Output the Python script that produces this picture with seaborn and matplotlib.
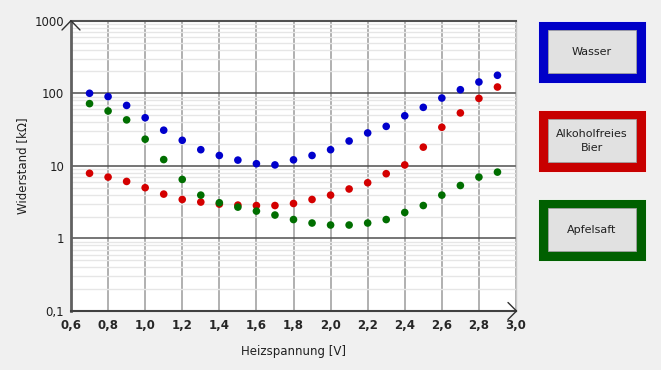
import matplotlib
matplotlib.use('Agg')
import numpy as np
import pandas as pd
import matplotlib.pyplot as plt
import seaborn as sns
from matplotlib.patches import Rectangle
from matplotlib.lines import Line2D
from matplotlib.ticker import FixedLocator, FuncFormatter, LogLocator, NullFormatter

spannung = [0.7, 0.8, 0.9, 1.0, 1.1, 1.2, 1.3, 1.4, 1.5, 1.6, 1.7, 1.8,
            1.9, 2.0, 2.1, 2.2, 2.3, 2.4, 2.5, 2.6, 2.7, 2.8, 2.9]
wasser = [100, 90, 68, 46, 31, 22.5, 16.7, 13.9, 12.0, 10.7, 10.3, 12.1,
          13.9, 16.7, 22, 28.4, 35, 49, 64, 86, 112, 143, 177]
bier = [7.9, 7.0, 6.1, 5.0, 4.08, 3.44, 3.17, 2.97, 2.88, 2.84, 2.84, 3.03,
        3.44, 3.95, 4.8, 5.85, 7.8, 10.3, 18.1, 34, 53.6, 85, 122]
apfel = [72, 57, 43, 23.3, 12.2, 6.5, 3.95, 3.1, 2.7, 2.38, 2.1, 1.82,
         1.63, 1.53, 1.53, 1.63, 1.82, 2.28, 2.84, 3.95, 5.36, 7.0, 8.2]

serien = ['Wasser', 'Alkoholfreies\nBier', 'Apfelsaft']
punkt_farben = ['#0000cc', '#d40000', '#006e00']
rahmen_farben = ['#0000c8', '#c80000', '#006000']
x_ticks = [0.6, 0.8, 1.0, 1.2, 1.4, 1.6, 1.8, 2.0, 2.2, 2.4, 2.6, 2.8, 3.0]
y_ticks = [0.1, 1, 10, 100, 1000]

df = pd.DataFrame({
    'U': spannung * 3,
    'R': wasser + bier + apfel,
    'Probe': np.repeat(serien, len(spannung)),
})

sns.set_style('white')
plt.rcParams['font.family'] = ['DejaVu Sans']

fig = plt.figure(figsize=(6.61, 3.70), dpi=100, facecolor='#f0f0f0')
W, H = 661, 370
ax = fig.add_axes([71 / W, 1 - 311 / H, (516 - 71) / W, (311 - 20.7) / H])
ax.set_facecolor('white')

sns.scatterplot(data=df, x='U', y='R', hue='Probe', palette=punkt_farben,
                s=30, linewidth=0, legend=False, ax=ax, zorder=3)

ax.set_yscale('log')
ax.set_xlim(0.6, 3.0)
ax.set_ylim(0.1, 1000)

ax.xaxis.set_major_locator(FixedLocator(x_ticks))
ax.xaxis.set_major_formatter(FuncFormatter(lambda v, p: f'{v:.1f}'.replace('.', ',')))
ax.yaxis.set_major_locator(FixedLocator(y_ticks))
ax.yaxis.set_major_formatter(FuncFormatter(lambda v, p: f'{v:g}'.replace('.', ',')))
ax.yaxis.set_minor_locator(LogLocator(base=10, subs=np.arange(2, 10)))
ax.yaxis.set_minor_formatter(NullFormatter())

ax.set_axisbelow(True)
ax.grid(axis='x', which='major', color='#b0b0b0', lw=1.4)
ax.grid(axis='y', which='major', color='#505050', lw=1.1)
ax.grid(axis='y', which='minor', color='#e6e6e6', lw=1.0)

ax.tick_params(axis='x', which='major', length=0, pad=6, labelsize=8.5)
ax.tick_params(axis='y', which='major', length=4, width=1, color='#505050',
               pad=1, labelsize=8.5, labelcolor='#202020')
ax.tick_params(axis='y', which='minor', length=2, width=1, color='#808080')
for lbl in ax.get_xticklabels():
    lbl.set_fontweight('bold')

for side, col, lw in [('left', '#606060', 2.0), ('bottom', '#404040', 1.5),
                      ('top', '#505050', 1.5), ('right', '#c8c8c8', 1.0)]:
    ax.spines[side].set_color(col)
    ax.spines[side].set_linewidth(lw)

ax.set_xlabel('Heizspannung [V]', fontsize=8.5, color='#202020', labelpad=9)
ax.set_ylabel('Widerstand [kΩ]', fontsize=8.5, color='#202020', labelpad=4)

# Pfeilspitzen an den Achsen
def fpx(x, y):
    return x / W, 1 - y / H

pfeile = [[(62, 30), (71, 20.7), (80, 30)],
          [(508, 302.5), (516.5, 311), (508, 319.5)]]
for pts in pfeile:
    xs, ys = zip(*[fpx(*p) for p in pts])
    fig.add_artist(Line2D(xs, ys, color='#303030', lw=1.0))

# Legendenfelder rechts
for i, (name, col) in enumerate(zip(serien, rahmen_farben)):
    top = 21 + i * 89
    fig.add_artist(Rectangle(fpx(538, top + 62), 108 / W, 62 / H,
                             facecolor=col, edgecolor='white', lw=0.6))
    fig.add_artist(Rectangle(fpx(548, top + 52), 88 / W, 43 / H,
                             facecolor='#e1e1e1', edgecolor='#a0a0a0', lw=0.6))
    tx, ty = fpx(592, top + 31)
    fig.text(tx, ty, name, ha='center', va='center', fontsize=8,
             color='#202020', linespacing=1.4)

fig.savefig('out.png', dpi=100, facecolor='#f0f0f0')
